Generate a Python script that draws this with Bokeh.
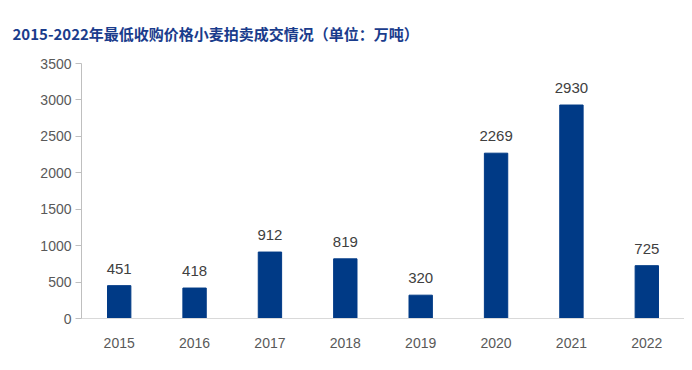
from bokeh.plotting import figure
from bokeh.models import ColumnDataSource, Range1d, FactorRange
from bokeh.embed import file_html
from bokeh.resources import INLINE
from bokeh.core.properties import value

years = ["2015", "2016", "2017", "2018", "2019", "2020", "2021", "2022"]
volumes = [451, 418, 912, 819, 320, 2269, 2930, 725]
y_ticks = [0, 500, 1000, 1500, 2000, 2500, 3000, 3500]
title_text = "2015-2022年最低收购价格小麦拍卖成交情况（单位：万吨）"

src = ColumnDataSource(dict(x=years, y=volumes, lab=[str(v) for v in volumes]))

p = figure(width=684, height=362, x_range=FactorRange(*years, range_padding=0),
           y_range=Range1d(0, 3500), output_backend="svg", toolbar_location=None,
           min_border_left=81, min_border_right=0, min_border_top=0, min_border_bottom=44,
           title=title_text)
p.outline_line_color = None
p.background_fill_color = "white"
p.border_fill_color = "white"

p.title.text_font = "Noto Sans CJK SC"
p.title.text_font_style = "bold"
p.title.text_font_size = "15px"
p.title.text_color = "#1A3C8C"
p.title.align = "left"
p.title.offset = -69
p.title.standoff = 40
p.title.padding = 0

p.vbar(x="x", top="y", width=0.31, source=src, color="#003A86")
p.text(x="x", y="y", text="lab", source=src, text_align="center", text_baseline="bottom",
       y_offset=-12, text_font=value("Liberation Sans"), text_font_size="15px", text_color="#404040")

p.xgrid.visible = False
p.ygrid.visible = False

p.yaxis.ticker = y_ticks
p.yaxis.axis_line_color = "#BFBFBF"
p.yaxis.major_tick_line_color = "#BFBFBF"
p.yaxis.major_tick_out = 6
p.yaxis.major_tick_in = 0
p.yaxis.minor_tick_line_color = None
p.yaxis.major_label_text_font = "Liberation Sans"
p.yaxis.major_label_text_font_size = "14px"
p.yaxis.major_label_text_color = "#595959"
p.yaxis.major_label_standoff = 4

p.xaxis.axis_line_color = "#D9D9D9"
p.xaxis.major_tick_line_color = None
p.xaxis.minor_tick_line_color = None
p.xaxis.major_label_text_font = "Liberation Sans"
p.xaxis.major_label_text_font_size = "14px"
p.xaxis.major_label_text_color = "#595959"
p.xaxis.major_label_standoff = 13

open("out.html", "w").write(file_html(p, INLINE))
